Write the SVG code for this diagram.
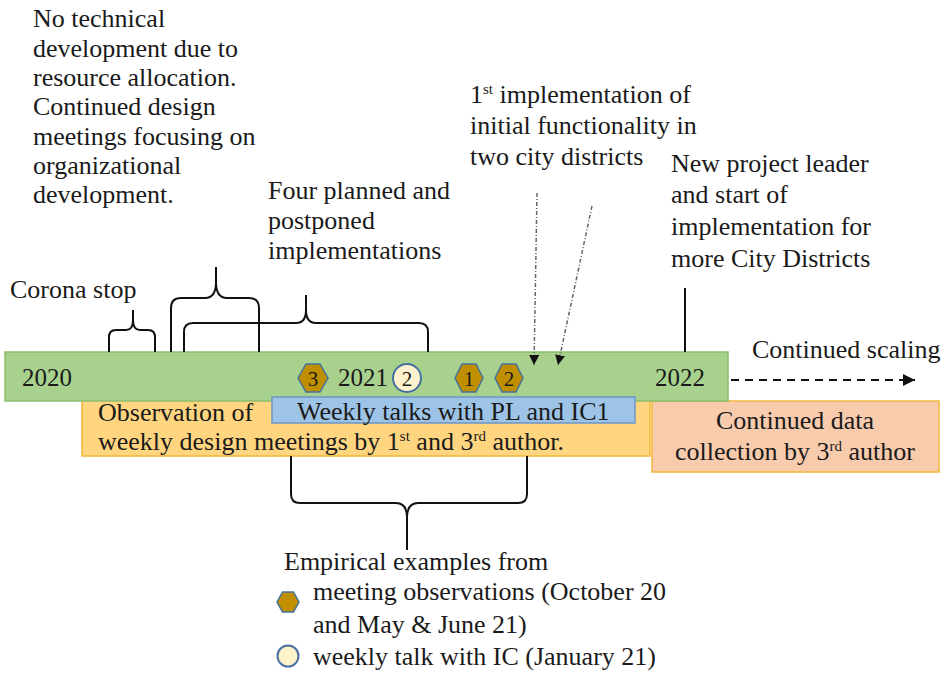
<svg xmlns="http://www.w3.org/2000/svg" width="947" height="673" viewBox="0 0 947 673" font-family="'Liberation Serif', Tinos, 'DejaVu Serif', 'Noto Serif', serif">
<style>
text{font-family:'Liberation Serif',Tinos,'DejaVu Serif','Noto Serif',serif;fill:#1a1a1a;font-size:26px}
.bar{font-size:25px}
.num{font-size:21px;text-anchor:middle}
.hex{fill:#bf8f00;stroke:#44719f;stroke-width:1.5}
.circ{fill:#fff2cc;stroke:#44719f;stroke-width:2}
.br{fill:none;stroke:#111;stroke-width:2}
.dd{fill:none;stroke:#666;stroke-width:1.5;stroke-dasharray:4,2,1,2}
.sup{font-size:15px}
</style>
<defs>
<marker id="ah" viewBox="0 0 10 10" refX="10" refY="5" markerWidth="10" markerHeight="10" markerUnits="userSpaceOnUse" orient="auto">
<path d="M0,0 L10,5 L0,10 Z" fill="#111"/>
</marker>
<marker id="ah2" viewBox="0 0 10 10" refX="10" refY="5" markerWidth="12" markerHeight="12" markerUnits="userSpaceOnUse" orient="auto">
<path d="M0,0 L10,5 L0,10 Z" fill="#111"/>
</marker>
</defs>

<g id="observation-box">
<rect x="82" y="400" width="568" height="56" fill="#ffd580" stroke="#f2b73a" stroke-width="1.5"/>
<text x="98" y="421">Observation of</text>
<text x="98" y="450">weekly design meetings by 1<tspan class="sup" dy="-9">st</tspan><tspan dy="9"> and 3</tspan><tspan class="sup" dy="-9">rd</tspan><tspan dy="9"> author.</tspan></text>
</g>

<g id="continued-data-box">
<rect x="652" y="401" width="287" height="71" fill="#f8cbad" stroke="#f2b73a" stroke-width="1.5"/>
<text x="795" y="429" text-anchor="middle">Continued data</text>
<text x="795" y="460" text-anchor="middle">collection by 3<tspan class="sup" dy="-9">rd</tspan><tspan dy="9">  author</tspan></text>
</g>

<g id="timeline-bar">
<rect x="5" y="352" width="723" height="49" fill="#a9d18e" stroke="#8cbd6e" stroke-width="1.5"/>
<text class="bar" x="22" y="386">2020</text>
<text class="bar" x="338" y="386">2021</text>
<text class="bar" x="655" y="386">2022</text>
</g>

<g id="weekly-talks-box">
<rect x="272" y="397" width="363" height="26" fill="#9dc3e6" stroke="#6d95c6" stroke-width="1.5"/>
<text x="297" y="420">Weekly talks with PL and IC1</text>
</g>

<g id="marker-3">
<polygon class="hex" points="298,378 306,364 320,364 328,378 320,392 306,392"/>
<text class="num" x="313" y="386">3</text>
</g>
<g id="marker-circle-2">
<circle class="circ" cx="407" cy="378" r="14"/>
<text class="num" x="407" y="386">2</text>
</g>
<g id="marker-1">
<polygon class="hex" points="455,378 462,364 476,364 483,378 476,392 462,392"/>
<text class="num" x="469" y="386">1</text>
</g>
<g id="marker-2">
<polygon class="hex" points="495,378 502,364 516,364 523,378 516,392 502,392"/>
<text class="num" x="509" y="386">2</text>
</g>

<g id="label-no-technical">
<text x="33" y="27">No technical</text>
<text x="33" y="57">development due to</text>
<text x="33" y="86">resource allocation.</text>
<text x="33" y="115">Continued design</text>
<text x="33" y="145">meetings focusing on</text>
<text x="33" y="174">organizational</text>
<text x="33" y="203">development.</text>
</g>

<g id="label-four-planned">
<text x="268" y="199">Four planned and</text>
<text x="268" y="229">postponed</text>
<text x="268" y="259">implementations</text>
</g>

<g id="label-corona">
<text x="10" y="298">Corona stop</text>
</g>

<g id="label-first-impl">
<text x="470" y="103">1<tspan class="sup" dy="-9">st</tspan><tspan dy="9"> implementation of</tspan></text>
<text x="470" y="134">initial  functionality in</text>
<text x="470" y="165">two city districts</text>
</g>

<g id="label-new-leader">
<text x="671" y="172">New project leader</text>
<text x="671" y="203">and start of</text>
<text x="671" y="235">implementation for</text>
<text x="671" y="267">more City Districts</text>
</g>

<g id="label-scaling">
<text x="752" y="358">Continued scaling</text>
</g>

<g id="legend">
<text x="284" y="570">Empirical examples from</text>
<polygon class="hex" points="277,602 282.5,592 293.5,592 299,602 293.5,612 282.5,612"/>
<text x="313" y="600">meeting observations (October 20</text>
<text x="313" y="633">and May &amp; June 21)</text>
<circle class="circ" cx="288" cy="656" r="10.5"/>
<text x="313" y="665">weekly talk with IC (January 21)</text>
</g>

<g id="connectors">
<path class="br" d="M109,352 V337 Q109,330 116,330 H126 Q133,330 133,320 V310 M133,320 Q133,330 140,330 H148 Q155,330 155,337 V352"/>
<path class="br" d="M171,352 V308 Q171,298 181,298 H205 Q216,298 216,282 V267 M216,282 Q216,298 227,298 H249 Q259,298 259,308 V352"/>
<path class="br" d="M184,352 V332 Q184,323 193,323 H296 Q306,323 306,310 V295 M306,310 Q306,323 316,323 H419 Q428,323 428,332 V352"/>
<path class="br" d="M291,456 V494 Q291,503 300,503 H396 Q407,503 407,518 V550 M407,518 Q407,503 418,503 H518 Q527,503 527,494 V456"/>
<line x1="685" y1="288" x2="685" y2="352" stroke="#111" stroke-width="2"/>
<line class="dd" x1="537" y1="193" x2="534" y2="365" marker-end="url(#ah)"/>
<line class="dd" x1="592" y1="206" x2="558" y2="365" marker-end="url(#ah)"/>
<line x1="731" y1="380" x2="915" y2="380" stroke="#111" stroke-width="2" stroke-dasharray="8,6" marker-end="url(#ah2)"/>
</g>
</svg>
